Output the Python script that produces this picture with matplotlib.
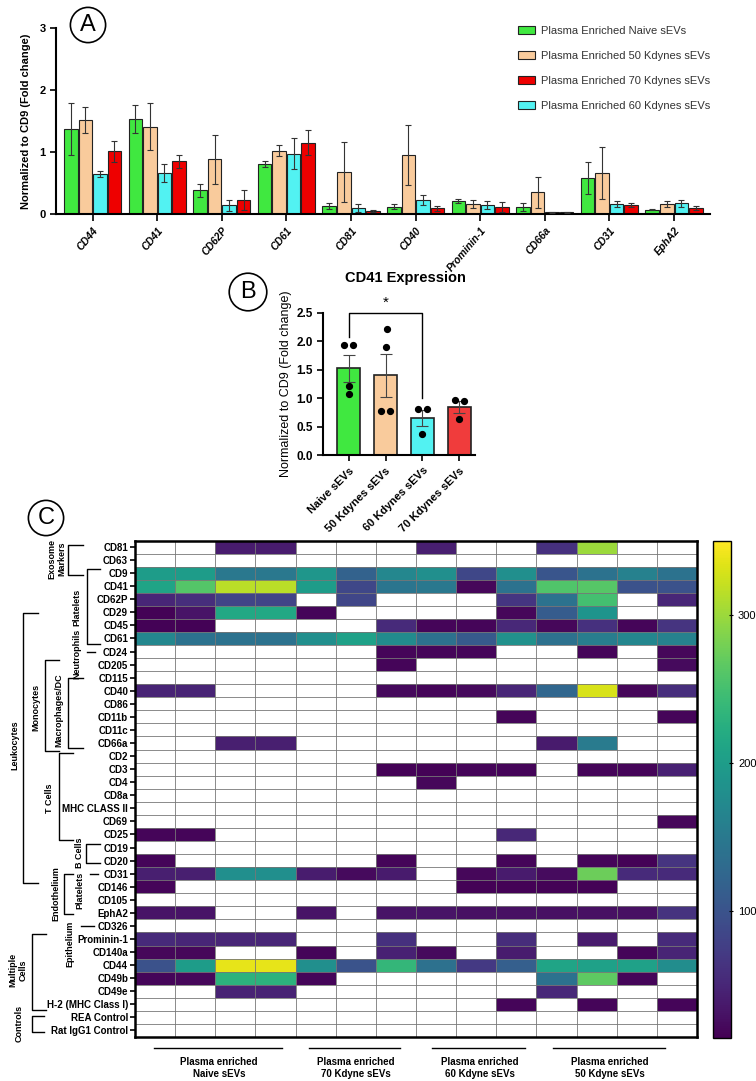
import numpy as np
import matplotlib
matplotlib.use("Agg")
import matplotlib.pyplot as plt
from matplotlib.patches import Patch
from matplotlib.lines import Line2D
from matplotlib.transforms import blended_transform_factory

plt.rcParams['font.family'] = ['Liberation Sans', 'DejaVu Sans']

W, H = 756, 1081

def fx(px):
    return px / W

def fy(py):
    return 1 - py / H

# ---- panel A data ----
markers_a = ["CD44", "CD41", "CD62P", "CD61", "CD81", "CD40", "Prominin-1", "CD66a", "CD31", "EphA2"]
naive_a = [1.37, 1.53, 0.38, 0.81, 0.13, 0.12, 0.21, 0.11, 0.58, 0.07]
naive_err = [0.42, 0.23, 0.10, 0.05, 0.05, 0.04, 0.03, 0.06, 0.26, 0.01]
k50_a = [1.51, 1.41, 0.88, 1.02, 0.68, 0.95, 0.16, 0.35, 0.66, 0.16]
k50_err = [0.21, 0.38, 0.39, 0.09, 0.48, 0.48, 0.07, 0.25, 0.42, 0.05]
k60_a = [0.65, 0.66, 0.14, 0.97, 0.10, 0.22, 0.14, 0.03, 0.16, 0.17]
k60_err = [0.05, 0.15, 0.09, 0.25, 0.06, 0.08, 0.065, 0.01, 0.05, 0.05]
k70_a = [1.01, 0.85, 0.22, 1.15, 0.05, 0.09, 0.11, 0.03, 0.14, 0.10]
k70_err = [0.17, 0.10, 0.16, 0.20, 0.015, 0.035, 0.08, 0.01, 0.03, 0.035]

# ---- panel B data ----
groups_b = ["Naive sEVs", "50 Kdynes sEVs", "60 Kdynes sEVs", "70 Kdynes sEVs"]
mean_b = [1.52, 1.40, 0.65, 0.84]
sem_b = [0.23, 0.38, 0.14, 0.10]
dots_b = [[1.93, 1.93, 1.21, 1.07], [2.21, 1.89, 0.77, 0.77], [0.81, 0.80, 0.37], [0.97, 0.94, 0.64]]
dots_dx = [[-0.13, 0.12, 0, 0], [0.03, 0, -0.12, 0.13], [-0.13, 0.13, 0], [-0.13, 0.12, 0]]

# ---- panel C data ----
rows_c = ["CD81", "CD63", "CD9", "CD41", "CD62P", "CD29", "CD45", "CD61", "CD24", "CD205",
          "CD115", "CD40", "CD86", "CD11b", "CD11c", "CD66a", "CD2", "CD3", "CD4", "CD8a",
          "MHC CLASS II", "CD69", "CD25", "CD19", "CD20", "CD31", "CD146", "CD105", "EphA2",
          "CD326", "Prominin-1", "CD140a", "CD44", "CD49b", "CD49e", "H-2 (MHC Class I)",
          "REA Control", "Rat IgG1 Control"]
N = np.nan
heat = [
    [N, N, 40, 40, N, N, N, 42, N, N, 60, 300, N, N],            # CD81
    [N] * 14,                                                     # CD63
    [199, 199, 148, 148, 190, 118, 170, 180, 85, 180, 102, 140, 160, 140],  # CD9
    [210, 260, 315, 315, 199, 85, 145, 148, 20, 140, 258, 262, 98, 98],     # CD41
    [50, 58, 81, 81, N, 84, N, N, N, 66, 140, 249, N, 50],        # CD62P
    [16, 32, 216, 216, 18, N, N, N, N, 20, 110, 188, N, N],       # CD29
    [16, 16, N, N, N, N, 54, 18, 18, 52, 20, 60, 18, 65],         # CD45
    [170, 140, 140, 140, 180, 205, 175, 138, 108, 182, 138, 155, 168, 162],  # CD61
    [N, N, N, N, N, N, 18, 18, 18, N, N, 18, N, 20],              # CD24
    [N, N, N, N, N, N, 18, N, N, N, N, N, N, 22],                 # CD205
    [N] * 14,                                                     # CD115
    [48, 48, N, N, N, N, 22, 18, 22, 50, 125, 330, 20, 58],       # CD40
    [N] * 14,                                                     # CD86
    [N, N, N, N, N, N, N, N, N, 18, N, N, N, 18],                 # CD11b
    [N] * 14,                                                     # CD11c
    [N, N, 42, 42, N, N, N, N, N, N, 38, 152, N, N],              # CD66a
    [N] * 14,                                                     # CD2
    [N, N, N, N, N, N, 16, 16, 18, 18, N, 18, 18, 45],            # CD3
    [N, N, N, N, N, N, N, 20, N, N, N, N, N, N],                  # CD4
    [N] * 14,                                                     # CD8a
    [N] * 14,                                                     # MHC II
    [N, N, N, N, N, N, N, N, N, N, N, N, N, 20],                  # CD69
    [18, 18, N, N, N, N, N, N, N, 52, N, N, N, N],                # CD25
    [N] * 14,                                                     # CD19
    [18, N, N, N, N, N, 18, N, N, 18, N, 18, 16, 65],             # CD20
    [42, 42, 180, 180, 40, 22, 38, N, 20, 38, 24, 275, 54, 54],   # CD31
    [18, N, N, N, N, N, N, N, 16, 16, 16, 16, N, N],              # CD146
    [N] * 14,                                                     # CD105
    [32, 32, N, N, 32, N, 32, 32, 28, 28, 28, 28, 28, 63],        # EphA2
    [N] * 14,                                                     # CD326
    [54, 50, 50, 50, N, N, 60, N, N, 56, N, 38, N, 54],           # Prominin-1
    [20, 20, N, N, 18, N, 45, 22, N, 40, N, N, 18, 48],           # CD140a
    [98, 199, 338, 338, 180, 100, 236, 138, 70, 115, 210, 205, 205, 178],   # CD44
    [18, 20, 230, 230, 18, N, N, N, N, N, 140, 266, 18, N],       # CD49b
    [N, N, 46, 46, N, N, N, N, N, N, 52, N, N, N],                # CD49e
    [N, N, N, N, N, N, N, N, N, 18, N, 18, N, 18],                # H-2
    [N] * 14,                                                     # REA
    [N] * 14,                                                     # Rat IgG1
]
col_groups = ["Plasma enriched\nNaive sEVs", "Plasma enriched\n70 Kdyne sEVs",
              "Plasma enriched\n60 Kdyne sEVs", "Plasma enriched\n50 Kdyne sEVs"]

c_naive, c_50, c_60, c_70 = "#40e840", "#f9cb9c", "#52f2f2", "#ee0000"

fig = plt.figure(figsize=(W / 100, H / 100), dpi=100)

# ================= panel A =================
axA = fig.add_axes([fx(56), fy(214), 654 / W, 186 / H])
x = np.arange(len(markers_a))
bw, step = 0.21, 0.225
series = [(naive_a, naive_err, c_naive), (k50_a, k50_err, c_50),
          (k60_a, k60_err, c_60), (k70_a, k70_err, c_70)]
for i, (vals, errs, col) in enumerate(series):
    xs = x + (i - 1.5) * step
    axA.bar(xs, vals, width=bw, color=col, edgecolor="#222222", linewidth=0.8, zorder=2)
    axA.errorbar(xs, vals, yerr=errs, fmt="none", ecolor="#333333", elinewidth=0.8,
                 capsize=2.2, capthick=0.8, zorder=3)
axA.set_xlim(-0.567, 9.557)
axA.set_ylim(0, 3)
axA.set_yticks([0, 1, 2, 3])
axA.set_xticks(x)
axA.set_xticklabels(markers_a, rotation=50, ha="right", rotation_mode="anchor",
                    fontsize=7.5, fontweight="bold", fontstyle="italic")
for lab in axA.get_yticklabels():
    lab.set_fontweight("bold")
axA.tick_params(axis="y", labelsize=8, length=4, width=1.2)
axA.tick_params(axis="x", length=5, width=1.2, pad=3)
for s in ["top", "right"]:
    axA.spines[s].set_visible(False)
for s in ["left", "bottom"]:
    axA.spines[s].set_linewidth(1.5)
axA.set_ylabel("Normalized to CD9 (Fold change)", fontsize=8, fontweight="bold", labelpad=6)

handles = [Patch(facecolor=c_naive, edgecolor="#222222", lw=0.8),
           Patch(facecolor=c_50, edgecolor="#222222", lw=0.8),
           Patch(facecolor=c_70, edgecolor="#222222", lw=0.8),
           Patch(facecolor=c_60, edgecolor="#222222", lw=0.8)]
labels = ["Plasma Enriched Naive sEVs", "Plasma Enriched 50 Kdynes sEVs",
          "Plasma Enriched 70 Kdynes sEVs", "Plasma Enriched 60 Kdynes sEVs"]
fig.legend(handles, labels, loc="upper left", bbox_to_anchor=(fx(508), fy(16)),
           frameon=False, fontsize=8, handlelength=1.5, handleheight=0.75,
           labelspacing=1.35, handletextpad=0.6, labelcolor="#333333")

fig.text(fx(88), fy(25), "A", fontsize=17, ha="center", va="center",
         bbox=dict(boxstyle="circle,pad=0.28", fc="white", ec="black", lw=1.2))

# ================= panel B =================
axB = fig.add_axes([fx(323), fy(455), 152 / W, 142.3 / H])
xb = np.arange(len(groups_b))
cols_b = [c_naive, c_50, c_60, "#f03c3c"]
axB.bar(xb, mean_b, width=0.62, color=cols_b, edgecolor="#222222", linewidth=1.2, zorder=2)
axB.errorbar(xb, mean_b, yerr=sem_b, fmt="none", ecolor="#444444", elinewidth=0.8,
             capsize=4, capthick=0.8, zorder=3)
for i, pts in enumerate(dots_b):
    axB.plot(xb[i] + np.array(dots_dx[i]), pts, "o", color="black", ms=4.2, zorder=4, clip_on=False)
axB.set_xlim(-0.69, 3.42)
axB.set_ylim(0, 2.5)
axB.set_yticks([0, 0.5, 1.0, 1.5, 2.0, 2.5])
axB.set_yticklabels(["0.0", "0.5", "1.0", "1.5", "2.0", "2.5"], fontweight="bold", fontsize=8.5)
axB.set_xticks(xb)
axB.set_xticklabels(groups_b, rotation=45, ha="right", rotation_mode="anchor",
                    fontsize=8, fontweight="bold")
axB.tick_params(axis="both", length=4, width=1.2)
for s in ["top", "right"]:
    axB.spines[s].set_visible(False)
for s in ["left", "bottom"]:
    axB.spines[s].set_linewidth(1.5)
axB.set_ylabel("Normalized to CD9 (Fold change)", fontsize=9, labelpad=3)
axB.plot([0, 0, 2, 2], [2.07, 2.5, 2.5, 1.0], color="black", lw=1.0, clip_on=False)
axB.text(1, 2.56, "*", ha="center", va="bottom", fontsize=11)
fig.text(fx(405), fy(278), "CD41 Expression", ha="center", va="center",
         fontsize=10.5, fontweight="bold")
fig.text(fx(248), fy(292), "B", fontsize=17, ha="center", va="center",
         bbox=dict(boxstyle="circle,pad=0.33", fc="white", ec="black", lw=1.2))

# ================= panel C =================
axC = fig.add_axes([fx(135), fy(1037), 562 / W, 496.5 / H])
data = np.ma.masked_invalid(np.array(heat, dtype=float))
mesh = axC.pcolormesh(np.arange(15) - 0.5, np.arange(len(rows_c) + 1) - 0.5, data,
                      cmap="viridis", vmin=14, vmax=350)
axC.set_xlim(-0.5, 13.5)
axC.set_ylim(len(rows_c) - 0.5, -0.5)
axC.set_xticks(np.arange(14) - 0.5, minor=True)
axC.set_yticks(np.arange(len(rows_c)) - 0.5, minor=True)
axC.grid(which="minor", color="#777777", lw=0.6)
axC.tick_params(which="minor", length=0)
axC.set_xticks([])
axC.set_yticks(np.arange(len(rows_c)))
axC.set_yticklabels(rows_c, fontsize=7, fontweight="bold")
axC.tick_params(axis="y", length=3.5, width=1.2, pad=1.5)
for s in axC.spines.values():
    s.set_linewidth(1.8)

cax = fig.add_axes([fx(713), fy(1038), 18 / W, 497 / H])
cb = fig.colorbar(mesh, cax=cax)
cb.set_ticks([100, 200, 300])
cb.ax.tick_params(labelsize=8, length=3, width=0.8, direction="inout")
cb.outline.set_linewidth(1.0)

# group labels under heatmap
group_lines = [(154, 282), (309, 400), (432, 525), (553, 665)]
for (x0, x1), lab in zip(group_lines, col_groups):
    fig.add_artist(Line2D([fx(x0), fx(x1)], [fy(1048), fy(1048)], color="black", lw=1.0))
    fig.text(fx((x0 + x1) / 2 + 1), fy(1068), lab, ha="center", va="center",
             fontsize=7, fontweight="bold", linespacing=1.2)

# left-side category brackets
tr = blended_transform_factory(fig.transFigure, axC.transData)
brackets = [
    # label, top row, bottom row, vertical x, end x, text x, text row
    ("Exosome\nMarkers", -0.15, 2.15, 68, 83, 57, 0.9),
    ("Platelets", 1.7, 7.4, 87, 100, 77, 4.6),
    ("Leukocytes", 5.06, 25.7, 23, 38, 15, 15.2),
    ("Monocytes", 8.66, 15.6, 45, 59, 36, 12.3),
    ("Macrophages/DC", 10.0, 15.4, 68, 83, 59, 12.5),
    ("T Cells", 15.8, 22.4, 59, 73, 50, 19.2),
    ("B Cells", 22.7, 24.2, 86, 100, 80, 23.4),
    ("Endothelium", 25.0, 28.1, 64, 73, 56, 26.5),
    ("Multiple\nCells", 29.65, 35.4, 32, 46, 18, 32.4),
    ("Controls", 35.9, 37.1, 32, 44, 19, 36.5),
]
for lab, r0, r1, xv, xe, xt, rt in brackets:
    axC.plot([fx(xe), fx(xv), fx(xv), fx(xe)], [r0, r0, r1, r1], color="black", lw=1.0,
             transform=tr, clip_on=False)
    axC.text(fx(xt), rt, lab, rotation=90, ha="center", va="center", fontsize=6.5,
             fontweight="bold", transform=tr, linespacing=1.1)
dashes = [
    ("Neutrophils", 8, 87, 95, 77, 8.2),
    ("Platelets", 25, 90, 98, 80, 26.3),
    ("Epithelium", 29, 81, 94, 70, 30.4),
]
for lab, r, x0, x1, xt, rt in dashes:
    axC.plot([fx(x0), fx(x1)], [r, r], color="black", lw=1.0, transform=tr, clip_on=False)
    axC.text(fx(xt), rt, lab, rotation=90, ha="center", va="center", fontsize=6.5,
             fontweight="bold", transform=tr)

fig.text(fx(46), fy(518), "C", fontsize=17, ha="center", va="center",
         bbox=dict(boxstyle="circle,pad=0.28", fc="white", ec="black", lw=1.2))

fig.savefig("out.png", dpi=100)
